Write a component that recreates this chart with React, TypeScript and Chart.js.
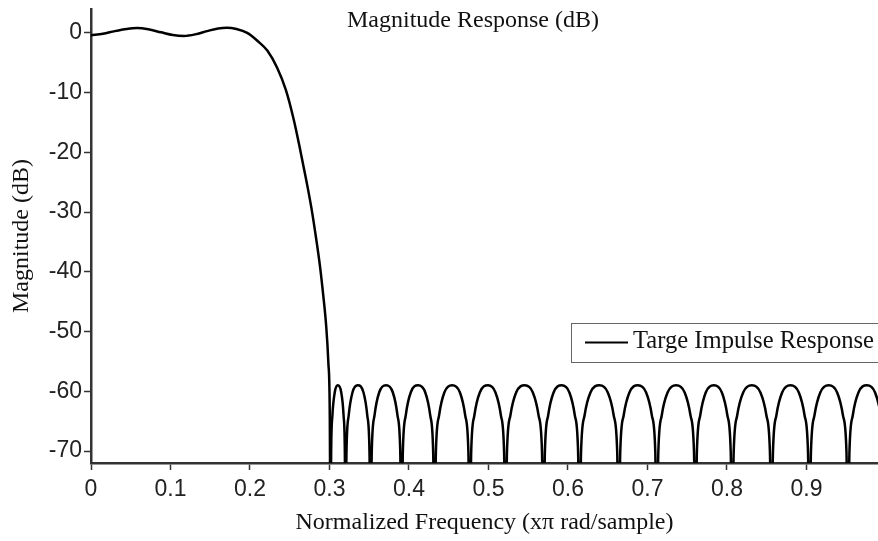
import React, { useEffect, useRef } from "react";
import { Chart, registerables } from "chart.js";

Chart.register(...registerables);

// Passband and transition band (normalized frequency, dB)
const passFreq = [
  0, 0.015, 0.03, 0.045, 0.058, 0.072, 0.088, 0.103, 0.117, 0.131, 0.146, 0.16,
  0.171, 0.183, 0.1965, 0.21, 0.222, 0.234, 0.245, 0.255, 0.2635, 0.271,
  0.2775, 0.2833, 0.288, 0.2922, 0.2958, 0.2985, 0.3003, 0.3013,
];
const passMag = [
  -0.4, -0.15, 0.3, 0.65, 0.8, 0.6, 0.1, -0.35, -0.5, -0.25, 0.3, 0.75, 0.87,
  0.65, 0, -1.4, -3, -5.8, -9.5, -14.5, -19.8, -24.8, -29.5, -34.5, -39, -44,
  -49, -55, -63, -85,
];

// Stopband lobes (normalized frequency, dB)
const stopFreq = [
  0.3021, 0.3037, 0.3066, 0.3105, 0.3148, 0.3177, 0.3193, 0.3201,
  0.3214, 0.3242, 0.3289, 0.3355, 0.3428, 0.3475, 0.3503, 0.3516,
  0.3532, 0.3567, 0.3625, 0.3711, 0.3797, 0.3855, 0.389, 0.3906,
  0.3923, 0.396, 0.4022, 0.4115, 0.4205, 0.4267, 0.4304, 0.4321,
  0.4339, 0.4379, 0.4445, 0.4543, 0.4641, 0.4707, 0.4747, 0.4765,
  0.4783, 0.4823, 0.4891, 0.4995, 0.5088, 0.5156, 0.5196, 0.5214,
  0.5233, 0.5276, 0.5348, 0.5457, 0.5558, 0.563, 0.5673, 0.5692,
  0.571, 0.5751, 0.5819, 0.5921, 0.6018, 0.6086, 0.6127, 0.6145,
  0.6165, 0.6209, 0.6283, 0.6395, 0.6501, 0.6575, 0.6619, 0.6639,
  0.6658, 0.6701, 0.6773, 0.688, 0.6983, 0.7055, 0.7098, 0.7117,
  0.7137, 0.718, 0.7253, 0.736, 0.7468, 0.7541, 0.7585, 0.7604,
  0.7622, 0.7664, 0.7733, 0.7835, 0.7936, 0.8005, 0.8047, 0.8065,
  0.8085, 0.8129, 0.8204, 0.8313, 0.8421, 0.8496, 0.854, 0.856,
  0.8579, 0.8622, 0.8694, 0.8799, 0.8904, 0.8976, 0.9019, 0.9038,
  0.9057, 0.9101, 0.9174, 0.928, 0.9386, 0.9459, 0.9503, 0.9522,
  0.9541, 0.9583, 0.9654, 0.976, 0.9863, 0.9934, 0.9976, 0.9995,
];
const stopMag = [
  -70, -64, -60.2, -59, -60.2, -64, -70, -85,
  -70, -64, -60.2, -59, -60.2, -64, -70, -85,
  -70, -64, -60.2, -59, -60.2, -64, -70, -85,
  -70, -64, -60.2, -59, -60.2, -64, -70, -85,
  -70, -64, -60.2, -59, -60.2, -64, -70, -85,
  -70, -64, -60.2, -59, -60.2, -64, -70, -85,
  -70, -64, -60.2, -59, -60.2, -64, -70, -85,
  -70, -64, -60.2, -59, -60.2, -64, -70, -85,
  -70, -64, -60.2, -59, -60.2, -64, -70, -85,
  -70, -64, -60.2, -59, -60.2, -64, -70, -85,
  -70, -64, -60.2, -59, -60.2, -64, -70, -85,
  -70, -64, -60.2, -59, -60.2, -64, -70, -85,
  -70, -64, -60.2, -59, -60.2, -64, -70, -85,
  -70, -64, -60.2, -59, -60.2, -64, -70, -85,
  -70, -64, -60.2, -59, -60.2, -64, -70, -85,
  -70, -64, -60.2, -59, -60.2, -64, -70, -85,
];

const xTickValues = [0, 0.1, 0.2, 0.3, 0.4, 0.5, 0.6, 0.7, 0.8, 0.9];
const xTickLabels = ["0", "0.1", "0.2", "0.3", "0.4", "0.5", "0.6", "0.7", "0.8", "0.9"];
const yTickValues = [0, -10, -20, -30, -40, -50, -60, -70];
const yTickLabels = ["0", "-10", "-20", "-30", "-40", "-50", "-60", "-70"];

const xMin = 0;
const xMax = 0.99;
const yMin = -72;
const yMax = 4;

const seriesLabel = "Targe Impulse Response";
const titleText = "Magnitude Response (dB)";
const xTitleText = "Normalized Frequency (xπ rad/sample)";
const yTitleText = "Magnitude (dB)";

const SERIF = '"Liberation Serif", "Times New Roman", serif';
const SANS = '"Liberation Sans", Arial, Helvetica, sans-serif';
const AXIS = "#333333";

const overlayPlugin = {
  id: "overlay",
  afterDraw(chart: any) {
    const ctx = chart.ctx as CanvasRenderingContext2D;
    ctx.save();
    ctx.font = `24px ${SERIF}`;
    ctx.fillStyle = "#111";
    ctx.textAlign = "left";
    ctx.textBaseline = "alphabetic";
    ctx.fillText(titleText, 347, 27);

    // legend box (extends past the right edge, as in the reference)
    ctx.fillStyle = "#fff";
    ctx.fillRect(571, 323, 340, 40);
    ctx.strokeStyle = "#666";
    ctx.lineWidth = 1;
    ctx.strokeRect(571.5, 323.5, 340, 39);
    ctx.strokeStyle = "#000";
    ctx.lineWidth = 2;
    ctx.beginPath();
    ctx.moveTo(585, 342.5);
    ctx.lineTo(628, 342.5);
    ctx.stroke();
    ctx.fillStyle = "#111";
    ctx.font = `24.6px ${SERIF}`;
    ctx.fillText(seriesLabel, 633, 348);
    ctx.restore();
  },
};

export default function App() {
  const canvasRef = useRef<HTMLCanvasElement | null>(null);

  useEffect(() => {
    document.body.style.margin = "0";
    document.body.style.overflow = "hidden";
    const canvas = canvasRef.current;
    if (!canvas) return;

    const points = [
      ...passFreq.map((f, i) => ({ x: f, y: passMag[i] })),
      ...stopFreq.map((f, i) => ({ x: f, y: stopMag[i] })),
    ];

    const chart = new Chart(canvas, {
      type: "line",
      data: {
        datasets: [
          {
            label: seriesLabel,
            data: points,
            borderColor: "#000",
            borderWidth: 2.5,
            pointRadius: 0,
            fill: false,
            cubicInterpolationMode: "monotone",
          },
        ],
      },
      options: {
        responsive: false,
        animation: false,
        devicePixelRatio: 1,
        layout: { padding: { top: 9, right: 0, left: 0, bottom: 0 } },
        plugins: {
          legend: { display: false },
          title: { display: false },
          tooltip: { enabled: false },
        },
        scales: {
          x: {
            type: "linear",
            min: xMin,
            max: xMax,
            afterBuildTicks(scale: any) {
              scale.ticks = xTickValues.map((v) => ({ value: v }));
            },
            afterFit(scale: any) {
              scale.height = 78;
              scale.paddingLeft = 0;
              scale.paddingRight = 0;
            },
            ticks: {
              autoSkip: false,
              maxRotation: 0,
              padding: 6,
              color: "#222",
              font: { family: SANS, size: 23 },
              callback: (v: any) => {
                const i = xTickValues.indexOf(Number(v));
                return i >= 0 ? xTickLabels[i] : "";
              },
            },
            grid: {
              drawOnChartArea: false,
              drawTicks: true,
              tickLength: 7,
              tickColor: AXIS,
              tickWidth: 1.5,
            },
            border: { display: true, color: AXIS, width: 2.5 },
            title: {
              display: true,
              text: xTitleText,
              color: "#111",
              font: { family: SERIF, size: 24 },
              padding: { top: 0, bottom: 4 },
            },
          },
          y: {
            type: "linear",
            min: yMin,
            max: yMax,
            afterBuildTicks(scale: any) {
              scale.ticks = yTickValues.map((v) => ({ value: v }));
            },
            afterFit(scale: any) {
              scale.width = 91;
              scale.paddingTop = 0;
              scale.paddingBottom = 0;
            },
            ticks: {
              autoSkip: false,
              padding: 2,
              color: "#222",
              font: { family: SANS, size: 23 },
              callback: (v: any) => {
                const i = yTickValues.indexOf(Number(v));
                return i >= 0 ? yTickLabels[i] : "";
              },
            },
            grid: {
              drawOnChartArea: false,
              drawTicks: true,
              tickLength: 7,
              tickColor: AXIS,
              tickWidth: 1.5,
            },
            border: { display: true, color: AXIS, width: 2.5 },
            title: {
              display: true,
              text: yTitleText,
              color: "#111",
              font: { family: SERIF, size: 24 },
              padding: { top: 7, bottom: 0 },
            },
          },
        },
      },
      plugins: [overlayPlugin],
    } as any);

    return () => chart.destroy();
  }, []);

  return (
    <div style={{ width: 878, height: 541, position: "relative" }}>
      <canvas ref={canvasRef} width={878} height={541} style={{ display: "block" }} />
    </div>
  );
}
